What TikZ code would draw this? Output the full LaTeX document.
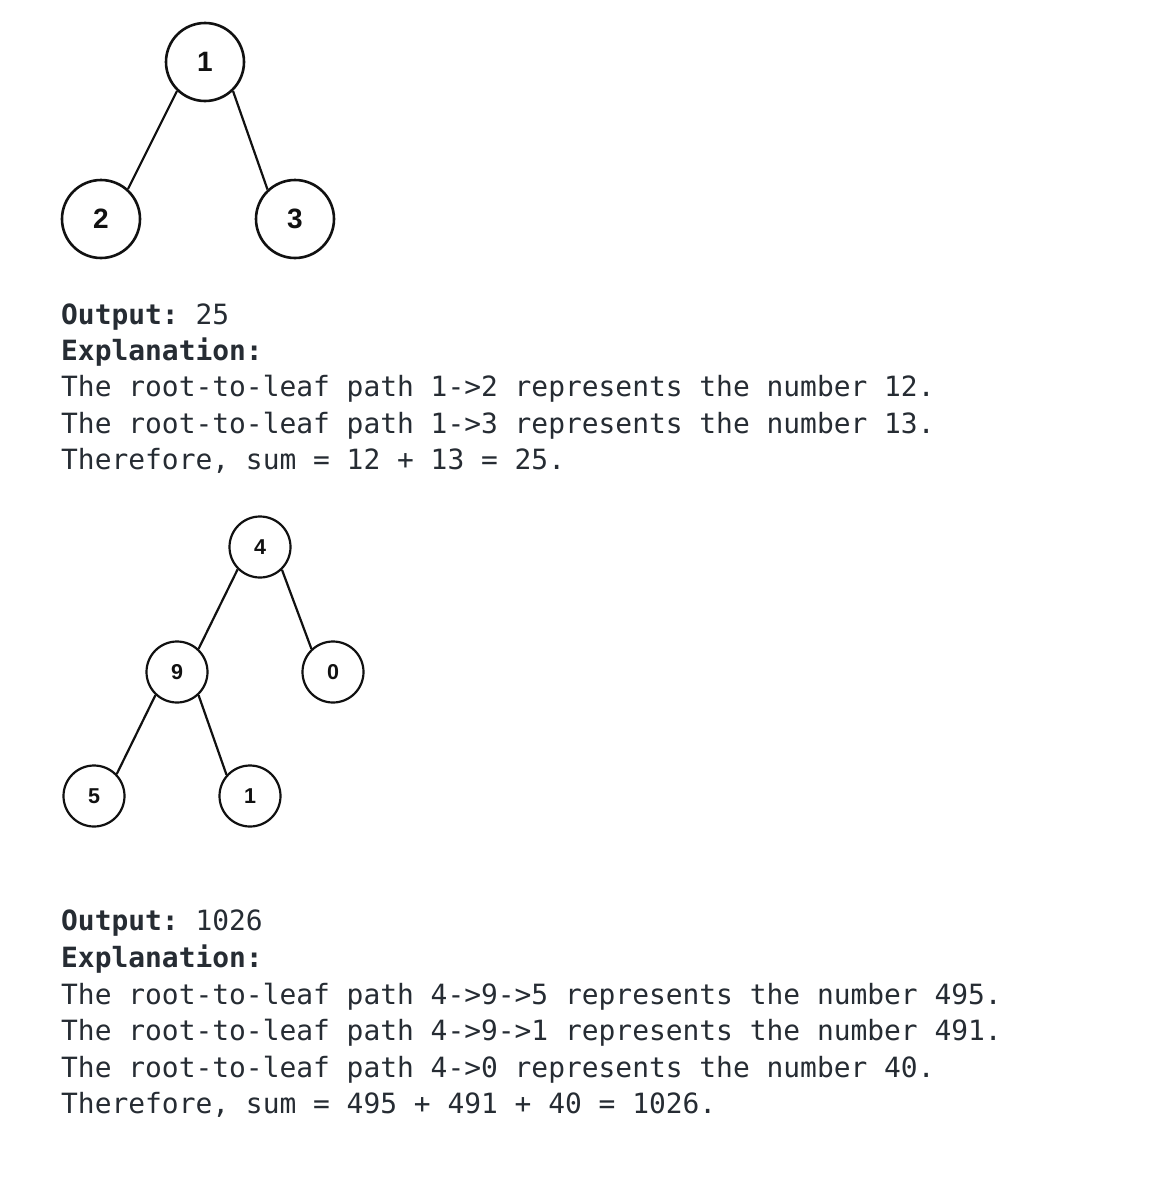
\documentclass[tikz,border=0pt]{standalone}
\usepackage{fontspec}
\setmainfont{Liberation Sans}
\setmonofont{DejaVu Sans Mono}
\definecolor{txt}{HTML}{262C33}
\definecolor{ink}{HTML}{111111}
\begin{document}
\begin{tikzpicture}[x=1pt,y=-1pt,
  bignode/.style={circle,draw=ink,line width=2.6pt,minimum size=78pt,inner sep=0pt,
    font=\fontsize{28}{28}\selectfont\bfseries,text=ink},
  smallnode/.style={circle,draw=ink,line width=2.2pt,minimum size=61pt,inner sep=0pt,
    font=\fontsize{21.5}{21.5}\selectfont\bfseries,text=ink},
  edge/.style={draw=ink,line width=2.2pt},
  codeline/.style={anchor=base west,inner sep=0pt,text=txt,
    font=\ttfamily\fontsize{27.9}{27.9}\selectfont}]
\useasboundingbox[fill=white] (0,0) rectangle (1170,1178);
% tree 1
\node[bignode] (a1) at (205,62) {1};
\node[bignode] (a2) at (101,219) {2};
\node[bignode] (a3) at (295,219) {3};
\draw[edge] (a1.226) -- (a2.48);
\draw[edge] (a1.314) -- (a3.133);
% text 1
\node[codeline] (t1) at (61,324) {\textbf{Output:} 25};
\node[codeline] (t2) at (61,360) {\textbf{Explanation:}};
\node[codeline] (t3) at (61,396) {The root-to-leaf path 1->2 represents the number 12.};
\node[codeline] (t4) at (61,433) {The root-to-leaf path 1->3 represents the number 13.};
\node[codeline] (t5) at (61,469) {Therefore, sum = 12 + 13 = 25.};
% tree 2
\node[smallnode] (b4) at (260,547) {4};
\node[smallnode] (b9) at (177,672) {9};
\node[smallnode] (b0) at (333,672) {0};
\node[smallnode] (b5) at (94,796) {5};
\node[smallnode] (b1) at (250,796) {1};
\draw[edge] (b4.225) -- (b9.47);
\draw[edge] (b4.314) -- (b0.133);
\draw[edge] (b9.227) -- (b5.44);
\draw[edge] (b9.313) -- (b1.138);
% text 2
\node[codeline] (u1) at (61,930) {\textbf{Output:} 1026};
\node[codeline] (u2) at (61,967) {\textbf{Explanation:}};
\node[codeline] (u3) at (61,1004) {The root-to-leaf path 4->9->5 represents the number 495.};
\node[codeline] (u4) at (61,1040) {The root-to-leaf path 4->9->1 represents the number 491.};
\node[codeline] (u5) at (61,1077) {The root-to-leaf path 4->0 represents the number 40.};
\node[codeline] (u6) at (61,1113) {Therefore, sum = 495 + 491 + 40 = 1026.};
\end{tikzpicture}
\end{document}
